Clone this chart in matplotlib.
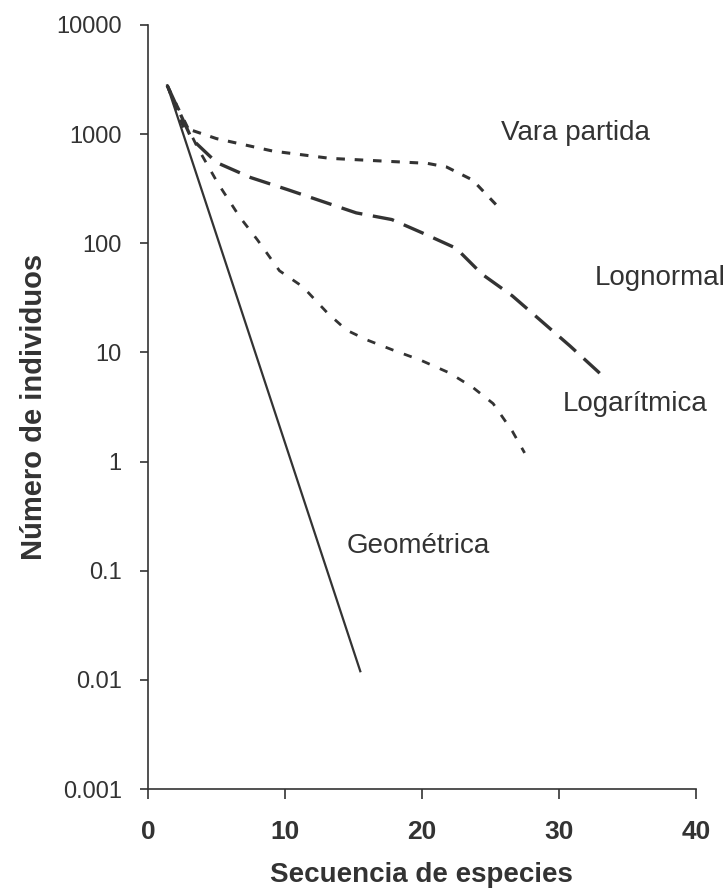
import matplotlib.pyplot as plt
from matplotlib import font_manager

# Species abundance models (log scale)
geo_x = [1.4, 15.5]
geo_y = [2800, 0.012]

vara_x = [1.4, 2.6, 5.0, 9.1, 13.3, 20.4, 21.8, 23.7, 25.5]
vara_y = [2800, 1150, 910, 700, 600, 540, 500, 380, 220]

logn_x = [1.4, 3.2, 5.0, 7.5, 10.2, 12.6, 15.2, 17.8, 20.0, 22.5, 24.4, 26.6, 28.8, 30.8, 32.9, 33.5]
logn_y = [2800, 900, 550, 400, 310, 245, 190, 165, 125, 90, 52, 33, 19, 11.5, 6.6, 5.5]

loga_x = [1.4, 3.6, 5.1, 6.7, 8.0, 9.6, 11.3, 13.1, 14.5, 16.0, 17.9, 19.9, 22.0, 23.7, 25.2, 26.6, 27.5]
loga_y = [2800, 760, 355, 174, 107, 56, 40, 23, 16, 13, 10.5, 8.5, 6.5, 4.8, 3.4, 1.9, 1.2]

yticks = [0.001, 0.01, 0.1, 1, 10, 100, 1000, 10000]
ytick_labels = ["0.001", "0.01", "0.1", "1", "10", "100", "1000", "10000"]
xticks = [0, 10, 20, 30, 40]

installed = {f.name for f in font_manager.fontManager.ttflist}
narrow = "Liberation Sans Narrow" if "Liberation Sans Narrow" in installed else "Liberation Sans"
plt.rcParams["font.family"] = ["Liberation Sans", "DejaVu Sans"]

ink = "#333333"
fig = plt.figure(figsize=(7.27, 8.96), dpi=100)
ax = fig.add_axes([0.2036, 0.1194, 0.7535, 0.8527])

ax.plot(geo_x, geo_y, color=ink, lw=1.6)
ax.plot(vara_x, vara_y, color=ink, lw=2.2, dashes=(2.8, 3.2))
ax.plot(logn_x, logn_y, color=ink, lw=2.4, dashes=(6.5, 3.2))
ax.plot(loga_x, loga_y, color=ink, lw=2.0, dashes=(3, 4))

ax.set_yscale("log")
ax.set_ylim(0.001, 10000)
ax.set_xlim(0, 40)
ax.set_yticks(yticks)
ax.set_yticklabels(ytick_labels)
ax.minorticks_off()
ax.set_xticks(xticks)

for side in ["top", "right"]:
    ax.spines[side].set_visible(False)
for side in ["left", "bottom"]:
    ax.spines[side].set_color(ink)
    ax.spines[side].set_linewidth(1.2)

ax.tick_params(axis="both", direction="out", width=1.2, color=ink, labelcolor=ink)
ax.tick_params(axis="y", length=6, pad=13, labelsize=17)
ax.tick_params(axis="x", length=7, pad=15, labelsize=19)
for lbl in ax.get_xticklabels():
    lbl.set_fontweight("bold")

ax.set_xlabel("Secuencia de especies", fontsize=20, fontweight="bold", color=ink, labelpad=13)
ax.set_ylabel("Número de individuos", fontsize=21, fontweight="bold", color=ink,
              family=[narrow, "DejaVu Sans"], labelpad=6)

ax.text(25.8, 1020, "Vara partida", fontsize=20, color=ink, va="center")
ax.text(32.6, 48, "Lognormal", fontsize=20, color=ink, va="center")
ax.text(30.3, 3.4, "Logarítmica", fontsize=20, color=ink, va="center")
ax.text(14.5, 0.17, "Geométrica", fontsize=20, color=ink, va="center")

fig.savefig("out.png", dpi=100)
